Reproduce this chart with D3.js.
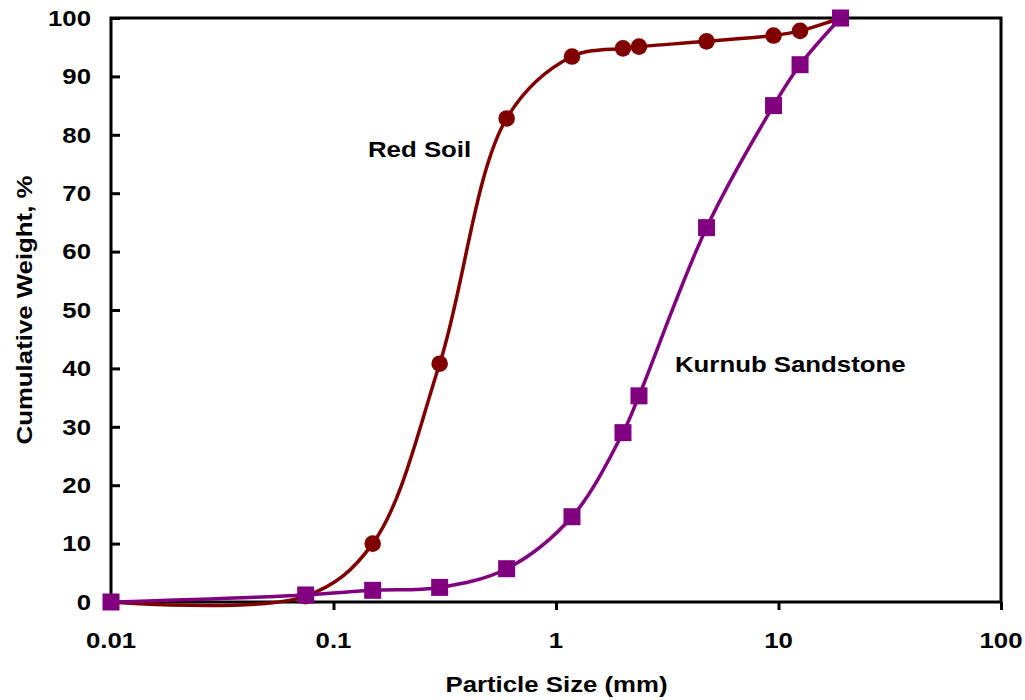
<!DOCTYPE html>
<html><head><meta charset="utf-8">
<script src="https://cdn.jsdelivr.net/npm/d3@7"></script>
<style>body{margin:0;background:#fff}text{font-family:Arial,"Liberation Sans",sans-serif;font-weight:bold;fill:#000}</style>
</head><body><svg id="c" width="1025" height="700"></svg>
<script>
const sizes = [0.01, 0.075, 0.15, 0.3, 0.6, 1.18, 2.0, 2.36, 4.75, 9.5, 12.5, 19];
const redSoil = [0, 1.0, 10.0, 40.8, 82.8, 93.4, 94.8, 95.1, 96.0, 97.0, 97.8, 100];
const kurnub = [0, 1.2, 2.0, 2.5, 5.7, 14.6, 29.0, 35.3, 64.1, 85.0, 92.0, 100];
const xTicks = [0.01, 0.1, 1, 10, 100];
const xTickLabels = ["0.01", "0.1", "1", "10", "100"];
const yTicks = [0, 10, 20, 30, 40, 50, 60, 70, 80, 90, 100];

const svg = d3.select("#c");
const L = 111, R = 1001, T = 18, B = 602;
const FS = 21.5, SX = 1.2;
const x = d3.scaleLog().domain([0.01, 100]).range([L, R]);
const y = d3.scaleLinear().domain([0, 100]).range([B, T]);

function label(px, py, txt, anchor, rot) {
  return svg.append("text")
    .attr("transform", `translate(${px},${py}) rotate(${rot || 0}) scale(${SX},1)`)
    .attr("text-anchor", anchor || "start").attr("font-size", FS).text(txt);
}

// frame
svg.append("rect").attr("x", L).attr("y", T).attr("width", R - L).attr("height", B - T)
  .attr("fill", "none").attr("stroke", "#000").attr("stroke-width", 3);

// x axis (ticks outside)
const xa = svg.append("g").attr("transform", `translate(0,${B})`)
  .call(d3.axisBottom(x).tickValues(xTicks).tickFormat(() => "").tickSize(8));
xa.select(".domain").remove();
xa.selectAll("line").attr("stroke", "#000").attr("stroke-width", 3);
xTicks.forEach((t, i) => label(x(t), 648, xTickLabels[i], "middle"));

// y axis (ticks inside)
const ya = svg.append("g").attr("transform", `translate(${L},0)`)
  .call(d3.axisRight(y).tickValues(yTicks).tickSize(9).tickFormat(() => ""));
ya.select(".domain").remove();
ya.selectAll("line").attr("stroke", "#000").attr("stroke-width", 3);
yTicks.forEach(t => label(91, y(t) + 7.7, String(t), "end"));

const line = d3.line().x(d => x(d[0])).y(d => y(d[1])).curve(d3.curveCatmullRom.alpha(0.5));

const redPts = sizes.map((s, i) => [s, redSoil[i]]);
const purPts = sizes.map((s, i) => [s, kurnub[i]]);

svg.append("path").attr("d", line(redPts)).attr("fill", "none").attr("stroke", "#800000").attr("stroke-width", 3.5);
svg.selectAll("circle.r").data(redPts.slice(1)).enter().append("circle")
  .attr("cx", d => x(d[0])).attr("cy", d => y(d[1])).attr("r", 8.3).attr("fill", "#800000");

svg.append("path").attr("d", line(purPts)).attr("fill", "none").attr("stroke", "#800080").attr("stroke-width", 3.5);
const sq = 17;
svg.selectAll("rect.p").data(purPts).enter().append("rect")
  .attr("x", d => x(d[0]) - sq / 2).attr("y", d => y(d[1]) - sq / 2).attr("width", sq).attr("height", sq)
  .attr("fill", "#800080");

// labels
label(368, 157, "Red Soil");
label(675, 372, "Kurnub Sandstone");
label(556.5, 692, "Particle Size (mm)", "middle");
label(32, 310, "Cumulative Weight, %", "middle", -90);
</script></body></html>
